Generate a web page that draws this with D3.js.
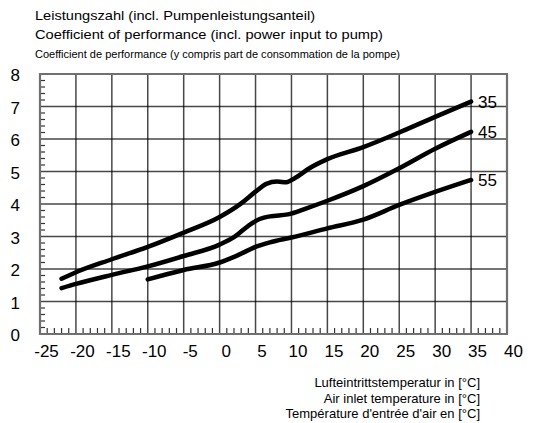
<!DOCTYPE html>
<html><head><meta charset="utf-8">
<script src="https://cdn.jsdelivr.net/npm/d3@7"></script>
<style>body{margin:0;background:#fff}svg{display:block;font-family:"Liberation Sans",Arial,sans-serif}</style>
</head><body><svg id="c" width="551" height="423"></svg>
<script>
const xTicks = [-25,-20,-15,-10,-5,0,5,10,15,20,25,30,35,40];
const yTicks = [0,1,2,3,4,5,6,7,8];
const seriesNames = ["35","45","55"];
const temp35 = [-22,-20,-15,-10,-5,0,3,5,6.5,8,9.3,10.5,12.5,15,20,25,30,35];
const cop35  = [1.7,1.9,2.3,2.68,3.12,3.6,4.02,4.38,4.62,4.69,4.67,4.8,5.1,5.38,5.75,6.2,6.68,7.15];
const temp45 = [-22,-20,-15,-10,-5,0,2,4,5.5,7,9.5,12,15,20,25,30,35];
const cop45  = [1.41,1.54,1.82,2.08,2.4,2.75,2.98,3.33,3.53,3.62,3.68,3.86,4.1,4.55,5.1,5.7,6.22];
const temp55 = [-10,-5,0,2.5,5,7,10,15,20,25,30,35];
const cop55  = [1.68,1.97,2.2,2.42,2.68,2.82,2.97,3.25,3.52,3.97,4.37,4.74];
const titleLines = ["Leistungszahl (incl. Pumpenleistungsanteil)","Coefficient of performance (incl. power input to pump)","Coefficient de performance (y compris part de consommation de la pompe)"];
const xTitleLines = ["Lufteintrittstemperatur in [°C]","Air inlet temperature in [°C]","Température d'entrée d'air en [°C]"];

const svg = d3.select("#c");
const L=40,R=507,T=74,B=334;
const x = d3.scaleLinear().domain([-25,40]).range([L,R]);
const y = d3.scaleLinear().domain([0,8]).range([B,T]);

// minor ticks
const yMinor = d3.range(0,8.001,0.2).filter(v=>Math.abs(v-Math.round(v))>0.01);
svg.append("g").selectAll("line").data(yMinor).join("line")
 .attr("x1",L).attr("x2",L+5).attr("y1",d=>y(d)).attr("y2",d=>y(d))
 .attr("stroke","#333").attr("stroke-width",1.2);
const xMinor = d3.range(-25,40).filter(v=>v%5!==0);
svg.append("g").selectAll("line").data(xMinor).join("line")
 .attr("x1",d=>x(d)).attr("x2",d=>x(d)).attr("y1",B).attr("y2",B-6)
 .attr("stroke","#333").attr("stroke-width",1.2);

// axes labels
const xa = svg.append("g").attr("transform",`translate(0,${B})`)
 .call(d3.axisBottom(x).tickValues(xTicks).tickSize(0).tickFormat(d=>String(d)));
xa.select(".domain").remove();
xa.selectAll("text").attr("font-size",17).attr("font-family","Liberation Sans, Arial, sans-serif")
 .attr("fill","#000").attr("dy","1.15em").attr("dx",6);
const ya = svg.append("g").attr("transform",`translate(${L},0)`)
 .call(d3.axisLeft(y).tickValues(yTicks).tickSize(0).tickFormat(d3.format("d")));
ya.select(".domain").remove();
ya.selectAll("text").attr("font-size",17).attr("font-family","Liberation Sans, Arial, sans-serif")
 .attr("fill","#000").attr("x",-20).attr("dy","0.4em");

// curves
const lineGen = d3.line().x(d=>x(d[0])).y(d=>y(d[1])).curve(d3.curveMonotoneX);
const series = [d3.zip(temp35,cop35), d3.zip(temp45,cop45), d3.zip(temp55,cop55)];
svg.append("g").selectAll("path").data(series).join("path")
 .attr("d",lineGen).style("fill","none").attr("stroke","#000").attr("stroke-width",4.5)
 .attr("stroke-linecap","round").attr("stroke-linejoin","round");
svg.append("g").selectAll("text").data(series).join("text")
 .attr("x",d=>x(d[d.length-1][0])+7).attr("y",d=>y(d[d.length-1][1])+6)
 .attr("font-size",17).attr("fill","#000").text((d,i)=>seriesNames[i]);

// grid drawn on top, one line per tick
const gridG = svg.append("g").attr("id","majorgrid");
xTicks.forEach(v=>{
  gridG.append("line").attr("x1",x(v)).attr("x2",x(v)).attr("y1",T).attr("y2",B)
   .attr("stroke","black").attr("stroke-opacity",0.72).attr("stroke-width",1.5);
});
yTicks.forEach(v=>{
  gridG.append("line").attr("x1",L).attr("x2",R).attr("y1",y(v)).attr("y2",y(v))
   .attr("stroke","black").attr("stroke-opacity",0.72).attr("stroke-width",1.5);
});

// frame
svg.append("path").attr("d",`M${L},${T}H${R}V${B}H${L}Z`)
 .style("fill","none").style("stroke","#707070").style("stroke-width","2.2px");

// titles
const tsizes=[13,13,10.5];
const tlens=[280,348,365];
svg.append("g").selectAll("text").data(titleLines).join("text")
 .attr("x",35).attr("y",(d,i)=>20+i*19).attr("font-size",(d,i)=>tsizes[i])
 .attr("textLength",(d,i)=>tlens[i]).attr("lengthAdjust","spacingAndGlyphs")
 .attr("fill","#000").text(d=>d);
svg.append("g").selectAll("text").data(xTitleLines).join("text")
 .attr("x",480).attr("y",(d,i)=>387+i*15.5).attr("font-size",13).attr("text-anchor","end")
 .attr("fill","#000").text(d=>d);
</script></body></html>
